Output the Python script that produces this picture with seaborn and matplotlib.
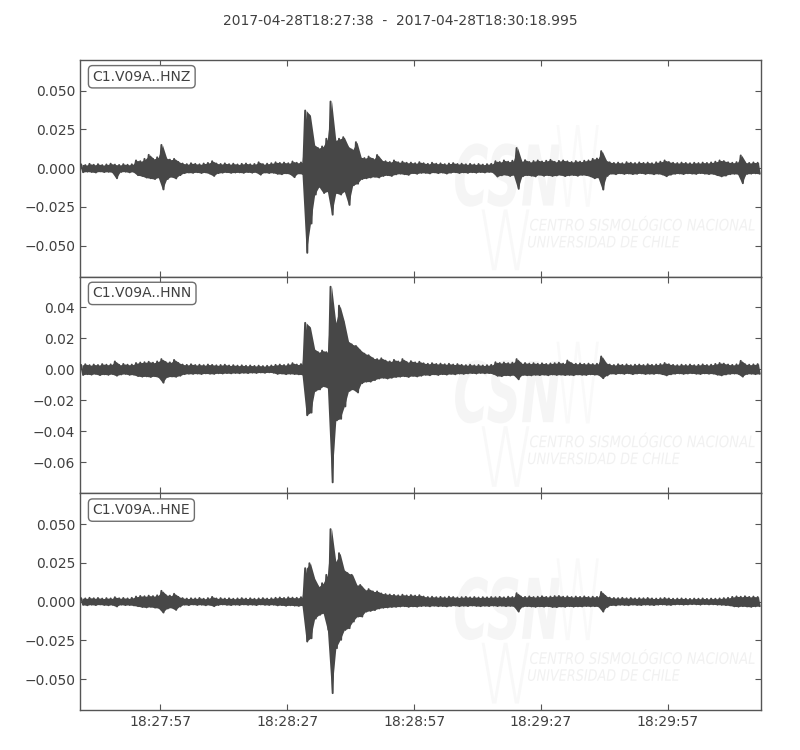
import matplotlib

matplotlib.use("Agg")

import matplotlib.pyplot as plt
import numpy as np
import pandas as pd
import seaborn as sns
from matplotlib.patches import PathPatch
from matplotlib.textpath import TextPath
from matplotlib.font_manager import FontProperties
from matplotlib.transforms import Affine2D


# per-second max / min of each trace, in units of 1e-3
UNIT = 1e-3

HNZ_HI = [
    2.5, 2.0, 2.8, 2.2, 2.6, 2.0, 2.4, 2.9, 2.3, 2.1, 2.6, 2.2, 2.5,
    5.0, 4.5, 6.0, 8.6, 6.0, 7.0, 15.0, 6.5, 5.5, 6.0, 4.0,
    3.0, 2.6, 3.2, 2.8, 2.5, 3.0, 3.4, 4.5, 3.0, 2.7, 3.1, 2.6, 2.9, 2.4, 2.8, 3.0, 2.5, 2.7, 3.8, 2.6, 2.9, 3.2,
    3.8, 3.4, 3.6, 3.2, 4.3, 3.5, 3.7,
    37.2, 34.0, 15.0, 13.0, 14.0, 19.0, 43.0, 18.0, 19.0, 20.0, 14.0, 12.0, 16.8, 7.0,
    6.5, 7.5, 6.0, 8.5, 5.0, 4.5, 4.0, 5.0, 3.8, 4.2, 3.5, 3.6, 3.2, 3.9,
    3.2, 2.8, 3.5, 2.9, 3.1, 2.6, 3.0, 3.3, 2.7, 2.9, 2.5, 2.8, 2.4, 2.7, 2.3, 2.6, 2.8,
    4.5, 4.0, 5.0, 4.2, 4.8, 13.0, 4.5, 5.2, 4.0, 4.6, 5.0, 4.3, 4.8, 5.4, 4.1, 4.7, 5.0, 4.4, 4.0, 4.6, 4.2, 4.8, 5.0, 6.0, 6.2,
    11.0, 5.0,
    3.8, 3.4, 3.6, 3.2, 3.9, 3.5, 3.3, 3.7, 3.4, 3.6, 3.2, 3.8, 4.2, 5.0, 4.0, 3.5, 3.3, 3.6,
    3.4, 3.2, 3.5, 3.3, 3.6, 3.4, 3.7, 4.2, 5.0, 4.6, 3.8, 3.5, 3.9, 8.2, 3.6, 3.4, 3.7, 3.5,
]
HNZ_LO = [
    -2.6, -2.2, -2.4, -2.8, -2.1, -2.5, -2.3, -2.6, -6.5, -2.4, -2.2, -2.7, -2.3,
    -4.5, -5.0, -6.0, -6.5, -7.0, -6.0, -13.7, -7.0, -5.5, -6.6, -4.5,
    -3.2, -2.8, -3.0, -2.6, -3.1, -2.7, -3.5, -5.0, -3.2, -2.9, -2.6, -3.0, -2.8, -2.7, -3.0, -2.5, -2.9, -2.6, -4.2, -2.8, -3.1, -2.9,
    -3.6, -3.9, -3.3, -3.7, -5.8, -3.4, -3.8,
    -54.6, -35.7, -17.0, -12.0, -16.0, -15.0, -30.0, -16.0, -17.0, -15.0, -23.7, -11.0, -10.0, -7.0,
    -6.5, -6.0, -5.5, -6.0, -5.0, -4.5, -5.0, -4.0, -3.5, -3.9, -4.3, -3.2, -3.6, -3.0,
    -3.0, -3.4, -2.7, -3.2, -2.8, -3.5, -2.9, -2.6, -3.1, -2.7, -3.0, -2.6, -2.9, -2.5, -2.8, -2.4, -2.7,
    -5.4, -4.6, -4.2, -5.0, -4.4, -13.3, -5.2, -4.5, -4.8, -5.3, -4.2, -4.9, -4.5, -5.0, -4.7, -4.3, -5.1, -4.6, -4.4, -4.9, -4.3, -4.5, -5.2, -6.5, -6.0,
    -13.8, -5.0,
    -3.5, -3.9, -3.3, -3.7, -3.4, -3.8, -3.6, -3.2, -3.7, -3.4, -3.9, -3.5, -4.0, -5.2, -4.2, -3.6, -3.4, -3.8,
    -3.3, -3.5, -3.7, -3.2, -3.5, -3.8, -3.6, -4.5, -5.3, -4.8, -3.9, -3.6, -3.8, -9.7, -3.7, -3.5, -3.3, -3.6,
]

HNN_HI = [
    2.8, 3.2, 2.6, 3.0, 2.7, 3.3, 2.9, 3.1, 5.0, 2.8, 3.4, 2.9, 3.0,
    4.0, 4.3, 4.5, 4.8, 4.2, 5.0, 6.5, 4.6, 4.4, 6.0, 4.0,
    3.0, 2.8, 3.2, 2.7, 2.9, 2.6, 3.0, 2.8, 2.5, 2.7, 2.9, 2.4, 2.6, 2.3, 2.5, 2.2, 2.4, 2.1, 2.3, 2.0, 2.2, 2.4,
    2.8, 3.0, 2.7, 3.2, 3.9, 3.0, 3.3,
    29.9, 27.0, 13.0, 11.0, 12.0, 11.0, 53.2, 30.0, 41.0, 31.0, 18.0, 16.0, 15.0, 12.0,
    10.0, 9.0, 7.0, 6.5, 7.0, 5.5, 5.0, 6.0, 5.0, 6.5, 4.6, 5.2, 4.4, 4.8,
    3.8, 3.5, 3.9, 3.4, 3.6, 3.2, 3.5, 3.0, 3.3, 2.8, 2.6, 2.9, 2.5, 2.7, 2.4, 2.6, 2.8,
    4.5, 4.0, 4.3, 3.9, 4.2, 6.5, 3.8, 4.0, 3.6, 3.9, 3.5, 3.8, 3.4, 3.7, 3.9, 4.2, 3.6, 5.6, 3.8, 3.5, 3.7, 3.4, 3.6, 3.3, 3.5,
    8.2, 4.0,
    3.0, 2.7, 3.2, 2.8, 3.1, 2.6, 2.9, 3.0, 2.7, 3.2, 2.8, 3.0, 3.3, 4.0, 3.2, 2.8, 2.6, 2.9,
    2.7, 3.0, 2.6, 2.8, 3.1, 2.7, 2.9, 3.4, 4.0, 3.6, 3.0, 2.8, 3.1, 5.4, 3.2, 2.9, 3.1, 3.3,
]
HNN_LO = [
    -3.7, -3.2, -3.5, -3.0, -3.8, -3.3, -3.6, -3.1, -4.2, -3.4, -3.0, -3.6, -3.5,
    -4.4, -4.8, -4.6, -5.0, -4.5, -5.2, -8.7, -5.0, -4.7, -4.9, -4.2,
    -3.2, -2.9, -3.0, -2.8, -3.1, -2.7, -2.9, -3.0, -2.6, -2.8, -2.5, -2.7, -2.4, -2.6, -2.3, -2.5, -2.2, -2.4, -2.1, -2.3, -2.0, -2.2,
    -3.0, -2.8, -3.2, -2.9, -3.1, -3.3, -3.5,
    -29.7, -28.0, -14.0, -13.0, -11.0, -12.0, -73.0, -33.0, -32.0, -24.0, -14.0, -13.0, -15.0, -9.0,
    -8.0, -8.0, -7.0, -6.0, -5.5, -6.0, -5.5, -5.0, -4.8, -4.5, -5.0, -4.3, -4.7, -4.2,
    -3.6, -3.9, -3.3, -3.7, -3.2, -3.5, -3.0, -3.3, -2.8, -3.0, -2.7, -2.5, -2.8, -2.4, -2.6, -2.5, -2.9,
    -4.2, -4.5, -3.9, -4.1, -3.8, -6.5, -3.7, -3.9, -4.0, -3.6, -3.8, -3.5, -3.9, -3.4, -3.7, -3.5, -3.8, -3.6, -3.9, -3.4, -3.6, -3.7, -3.3, -3.5, -3.6,
    -5.8, -4.0,
    -2.8, -3.1, -2.7, -3.0, -2.6, -3.2, -2.8, -2.7, -3.1, -2.9, -3.0, -2.7, -3.2, -4.0, -3.3, -2.9, -2.7, -3.0,
    -2.8, -2.6, -2.9, -3.1, -2.7, -2.9, -2.8, -3.5, -4.0, -3.4, -3.0, -2.8, -3.0, -4.8, -3.1, -2.9, -3.2, -3.0,
]

HNE_HI = [
    2.2, 2.0, 2.4, 2.1, 2.3, 1.9, 2.2, 2.0, 2.8, 2.1, 2.3, 2.0, 2.4,
    3.2, 3.6, 3.4, 3.8, 3.5, 4.0, 6.9, 4.2, 3.8, 5.0, 3.0,
    2.2, 1.9, 2.1, 2.0, 2.3, 1.8, 2.2, 3.0, 2.0, 2.2, 1.9, 2.1, 1.8, 2.0, 2.2, 1.9, 2.1, 1.8, 2.0, 2.2, 1.9, 2.1,
    2.4, 2.6, 2.3, 2.7, 2.5, 2.4, 2.8,
    21.5, 24.7, 15.0, 9.7, 11.8, 17.2, 46.7, 25.8, 31.2, 20.4, 18.3, 17.2, 10.7, 10.7,
    7.5, 8.0, 6.5, 6.5, 5.2, 4.8, 4.5, 4.3, 4.0, 4.4, 3.9, 4.2, 3.8, 4.1,
    3.2, 2.9, 3.1, 2.8, 3.0, 2.7, 3.1, 2.9, 2.6, 2.8, 3.0, 2.7, 2.9, 2.6, 2.8, 2.7, 2.9,
    2.8, 3.0, 2.7, 3.1, 2.9, 5.4, 3.2, 3.0, 3.3, 2.9, 3.1, 3.4, 3.0, 3.2, 3.5, 3.6, 3.1, 3.3, 2.9, 3.2, 3.0, 3.3, 2.9, 3.1, 3.0,
    6.2, 3.5,
    2.5, 2.3, 2.2, 2.4, 2.1, 2.3, 2.0, 2.2, 2.1, 2.3, 2.0, 1.9, 2.1, 2.3, 2.0, 1.8, 1.9, 2.0,
    1.8, 1.7, 1.9, 1.8, 2.0, 1.7, 1.9, 1.8, 2.0, 2.2, 2.4, 3.0, 3.3, 3.1, 3.4, 3.0, 3.2, 2.9,
]
HNE_LO = [
    -2.1, -2.4, -2.0, -2.3, -1.9, -2.2, -2.4, -2.1, -3.2, -2.0, -2.3, -2.2, -2.5,
    -3.0, -3.5, -3.8, -3.4, -3.9, -4.2, -7.1, -4.5, -3.9, -5.4, -3.2,
    -2.0, -2.3, -1.9, -2.2, -2.0, -2.4, -2.1, -3.0, -2.2, -1.9, -2.1, -2.3, -2.0, -2.2, -1.9, -2.1, -2.0, -2.3, -1.9, -2.1, -2.2, -2.0,
    -2.5, -2.3, -2.7, -2.4, -2.6, -2.8, -2.5,
    -25.8, -23.7, -11.0, -8.6, -7.5, -18.3, -59.1, -30.1, -24.7, -18.3, -17.2, -12.9, -9.7, -9.7,
    -6.5, -6.0, -5.5, -4.5, -4.0, -3.8, -3.5, -3.4, -3.2, -3.0, -3.4, -3.1, -3.3, -2.9,
    -2.8, -3.1, -2.7, -3.0, -2.9, -3.2, -2.8, -2.6, -3.0, -2.7, -2.9, -2.6, -2.8, -3.0, -2.7, -2.9, -2.6,
    -2.9, -2.7, -3.0, -2.8, -3.1, -6.5, -3.3, -3.0, -3.2, -3.4, -3.1, -3.3, -3.0, -3.5, -3.6, -3.2, -3.4, -3.0, -3.3, -3.1, -3.2, -2.9, -3.1, -3.0, -3.2,
    -6.5, -3.5,
    -2.3, -2.5, -2.1, -2.2, -2.4, -2.0, -2.2, -2.3, -2.0, -2.1, -2.3, -2.0, -1.9, -2.1, -2.2, -1.9, -1.8, -2.0,
    -1.9, -1.7, -1.8, -2.0, -1.7, -1.9, -1.8, -2.0, -2.1, -2.3, -2.5, -3.1, -3.3, -3.0, -3.2, -3.4, -3.1, -3.0,
]

CHANNELS = ["C1.V09A..HNZ", "C1.V09A..HNN", "C1.V09A..HNE"]
TRACES = [(HNZ_HI, HNZ_LO), (HNN_HI, HNN_LO), (HNE_HI, HNE_LO)]
YLIMS = [(-0.0700, 0.0698), (-0.0801, 0.0597), (-0.0700, 0.0698)]
YTICKS = [
    [-0.05, -0.025, 0.0, 0.025, 0.05],
    [-0.06, -0.04, -0.02, 0.0, 0.02, 0.04],
    [-0.05, -0.025, 0.0, 0.025, 0.05],
]
XTICK_SECONDS = [19, 49, 79, 109, 139]
XTICK_LABELS = ["18:27:57", "18:28:27", "18:28:57", "18:29:27", "18:29:57"]
DURATION = 160.995
TITLE = "2017-04-28T18:27:38  -  2017-04-28T18:30:18.995"

TEXT = "#404040"
TRACE = "#474747"
FRAME = "#555555"

sns.set_style("ticks")
plt.rcParams.update({
    "font.family": ["DejaVu Sans"],
    "font.size": 10,
    "text.color": TEXT,
    "axes.edgecolor": FRAME,
    "axes.linewidth": 1.0,
    "xtick.color": FRAME,
    "ytick.color": FRAME,
    "xtick.labelcolor": TEXT,
    "ytick.labelcolor": TEXT,
    "xtick.direction": "in",
    "ytick.direction": "in",
    "xtick.top": True,
    "ytick.right": True,
    "xtick.major.size": 4.5,
    "ytick.major.size": 4.5,
    "xtick.labelsize": 10,
    "ytick.labelsize": 10,
})


def minmax_frame(hi, lo):
    # min/max of every second drawn as a zigzag, the way obspy draws long traces
    sec = np.arange(len(hi))
    times = np.column_stack([sec + 0.25, sec + 0.75]).ravel()
    amps = np.column_stack([hi, lo]).ravel() * UNIT
    return pd.DataFrame({"time": times, "amp": amps})


def watermark_text(ax, text, box, color, weight="normal", style="italic"):
    # text path stretched to fill box = (x0, y0, x1, y1) in axes fraction
    prop = FontProperties(family="DejaVu Sans", weight=weight, style=style)
    path = TextPath((0, 0), text, size=10, prop=prop)
    ext = path.get_extents()
    x0, y0, x1, y1 = box
    tr = (Affine2D().translate(-ext.x0, -ext.y0)
          .scale((x1 - x0) / ext.width, (y1 - y0) / ext.height)
          .translate(x0, y0))
    ax.add_patch(PathPatch(tr.transform_path(path), transform=ax.transAxes,
                           facecolor=color, edgecolor="none", zorder=0))


fig, axes = plt.subplots(3, 1, figsize=(8, 7.5), dpi=100, sharex=True)
fig.subplots_adjust(left=0.1, right=0.951, top=0.92, bottom=0.0533, hspace=0)

for ax, name, (hi, lo), ylim, yticks in zip(axes, CHANNELS, TRACES, YLIMS, YTICKS):
    # faint CSN watermark
    watermark_text(ax, "CSN", (0.551, 0.323, 0.705, 0.615), "#f5f5f5", weight="bold")
    watermark_text(ax, "W", (0.700, 0.323, 0.762, 0.700), "#f9f9f9", weight="light", style="normal")
    watermark_text(ax, "W", (0.590, 0.030, 0.660, 0.310), "#f8f8f8", weight="light", style="normal")
    watermark_text(ax, "CENTRO SISMOLÓGICO NACIONAL", (0.661, 0.212, 0.991, 0.281), "#f1f1f1")
    watermark_text(ax, "UNIVERSIDAD DE CHILE", (0.658, 0.134, 0.881, 0.189), "#f1f1f1")

    sec = np.arange(len(hi)) + 0.5
    ax.fill_between(sec, np.asarray(lo) * UNIT, np.asarray(hi) * UNIT,
                    color=TRACE, lw=0, zorder=2)
    sns.lineplot(data=minmax_frame(hi, lo), x="time", y="amp", sort=False,
                 estimator=None, color=TRACE, lw=1.4, ax=ax, zorder=3)

    ax.set_ylim(*ylim)
    ax.set_yticks(yticks)
    ax.set_xlim(0, DURATION)
    ax.set_xlabel("")
    ax.set_ylabel("")
    ax.text(0.0185, 0.955, name, transform=ax.transAxes, fontsize=10, va="top", ha="left",
            color=TEXT, zorder=5,
            bbox=dict(boxstyle="round,pad=0.3", facecolor="white", edgecolor="#6e6e6e", lw=1.0))

axes[-1].set_xticks(XTICK_SECONDS)
axes[-1].set_xticklabels(XTICK_LABELS)

fig.suptitle(TITLE, y=0.981, fontsize=10, color=TEXT)
fig.savefig("out.png", dpi=100)
